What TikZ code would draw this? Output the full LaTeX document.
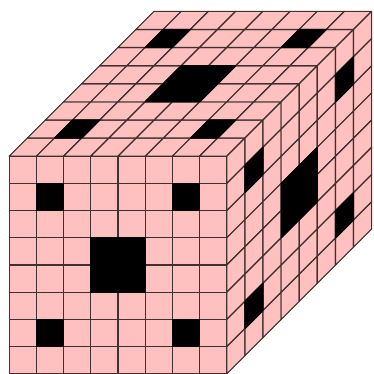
\documentclass[tikz,border=0pt]{standalone}
\definecolor{pinkface}{HTML}{FFC0C0}
\definecolor{gridline}{HTML}{403030}
\tikzset{
  cellface/.style={fill=pinkface,draw=gridline,line width=1.2pt,line join=round},
  holeface/.style={fill=black,draw=black,line width=1.2pt,line join=round}
}
\newcommand{\cw}{27.2}
\newcommand{\dq}{18.1}
\newcommand{\ox}{9.2}
\newcommand{\oy}{156.2}
\begin{document}
\begin{tikzpicture}[x=1pt,y=-1pt]
\useasboundingbox (0,0) rectangle (373,374);
% top face: col c, depth d
\foreach \d in {0,...,7}\foreach \c in {0,...,7}{
  \draw[cellface] ({\ox+\c*\cw+\d*\dq},{\oy-\d*\dq}) -- ++(\cw,0) -- ++(\dq,-\dq) -- ++(-\cw,0) -- cycle;
}
% front face: col c, row r
\foreach \r in {0,...,7}\foreach \c in {0,...,7}{
  \draw[cellface] ({\ox+\c*\cw},{\oy+\r*\cw}) rectangle ++(\cw,\cw);
}
% right face: depth d, row r
\foreach \d in {0,...,7}\foreach \r in {0,...,7}{
  \draw[cellface] ({\ox+8*\cw+\d*\dq},{\oy+\r*\cw-\d*\dq}) -- ++(\dq,-\dq) -- ++(0,\cw) -- ++(-\dq,\dq) -- cycle;
}
% holes (a,b = first index, s = size in cells)
\foreach \a/\b/\s in {1/1/1,6/1/1,3/3/2,1/6/1,6/6/1}{
  \draw[holeface] ({\ox+\a*\cw},{\oy+\b*\cw}) rectangle ++({\s*\cw},{\s*\cw});
  % top: a = col, b = depth
  \draw[holeface] ({\ox+\a*\cw+\b*\dq},{\oy-\b*\dq}) -- ++({\s*\cw},0) -- ++({\s*\dq},{-\s*\dq}) -- ++({-\s*\cw},0) -- cycle;
  % right: a = depth, b = row
  \draw[holeface] ({\ox+8*\cw+\a*\dq},{\oy+\b*\cw-\a*\dq}) -- ++({\s*\dq},{-\s*\dq}) -- ++(0,{\s*\cw}) -- ++({-\s*\dq},{\s*\dq}) -- cycle;
}
\end{tikzpicture}
\end{document}
